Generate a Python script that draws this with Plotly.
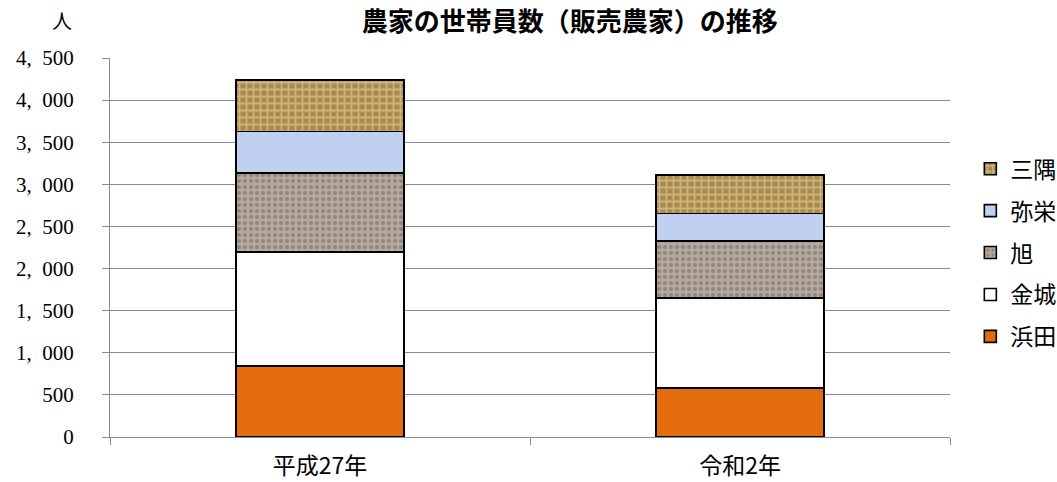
import plotly.graph_objects as go

categories = ["平成27年", "令和2年"]
series_names = ["浜田", "金城", "旭", "弥栄", "三隅"]
hamada = [843, 585]
kanagi = [1354, 1062]
asahi = [938, 680]
yasaka = [490, 329]
misumi = [612, 455]
y_ticks = [0, 500, 1000, 1500, 2000, 2500, 3000, 3500, 4000, 4500]
y_tick_labels = ["0", "500", "1,\u2002000", "1,\u2002500", "2,\u2002000", "2,\u2002500",
                 "3,\u2002000", "3,\u2002500", "4,\u2002000", "4,\u2002500"]

values = [hamada, kanagi, asahi, yasaka, misumi]
styles = [
    dict(color="#e36c0c", pattern=None),
    dict(color="#ffffff", pattern=None),
    dict(color="#a89b91", pattern=dict(shape=".", fgcolor="#6e6259", bgcolor="#b5a89e", size=6, solidity=0.35)),
    dict(color="#c0d0f0", pattern=None),
    dict(color="#c9a865", pattern=dict(shape="+", fgcolor="#f0dca8", bgcolor="#a98a4e", size=7, solidity=0.45)),
]
ranks = [5, 4, 3, 2, 1]

fig = go.Figure()
for name, vals, st, rk in zip(series_names, values, styles, ranks):
    marker = dict(color=st["color"], line=dict(color="#000000", width=1.6))
    if st["pattern"]:
        marker["pattern"] = st["pattern"]
    fig.add_trace(go.Bar(
        x=categories, y=vals, name=name, marker=marker,
        legendgroup=name, legendrank=rk, width=0.4,
    ))

fig.update_layout(
    barmode="stack",
    width=1057, height=482,
    margin=dict(l=110, r=107, t=58, b=45),
    paper_bgcolor="white", plot_bgcolor="white",
    title=dict(text="<b>農家の世帯員数（販売農家）の推移</b>", x=0.539, xanchor="center", y=0.954, yanchor="middle",
               font=dict(family="Noto Sans CJK JP", size=26, color="#000000")),
    legend=dict(traceorder="grouped", tracegroupgap=9, xref="container", x=0.918, xanchor="left",
                y=0.486, yanchor="middle",
                font=dict(family="Noto Sans CJK JP", size=23, color="#000000"), itemwidth=30),
    showlegend=True,
    annotations=[dict(text="人", xref="paper", yref="paper", x=-0.057, y=1.1, xanchor="center", yanchor="middle",
                      showarrow=False, font=dict(family="Noto Sans CJK JP", size=20, color="#000000"))],
)
fig.update_yaxes(
    range=[0, 4500], tickvals=y_ticks, ticktext=y_tick_labels, automargin=False,
    showgrid=True, gridcolor="#8c8c8c", gridwidth=1.3,
    showline=True, linecolor="#8c8c8c", linewidth=1.3,
    ticks="outside", ticklen=7, tickcolor="#8c8c8c", ticklabelstandoff=24,
    tickfont=dict(family="Liberation Serif", size=21, color="#000000"),
    zeroline=False,
)
fig.update_xaxes(
    showline=True, linecolor="#8c8c8c", linewidth=1.3, automargin=False,
    ticks="outside", ticklen=7, tickcolor="#8c8c8c", tickson="boundaries", ticklabelstandoff=8,
    tickfont=dict(family="Noto Sans CJK JP", size=23, color="#000000"),
    showgrid=False,
)
fig.write_html("out.html", config={"displayModeBar": False},
               post_script="document.body.style.margin='0';")
